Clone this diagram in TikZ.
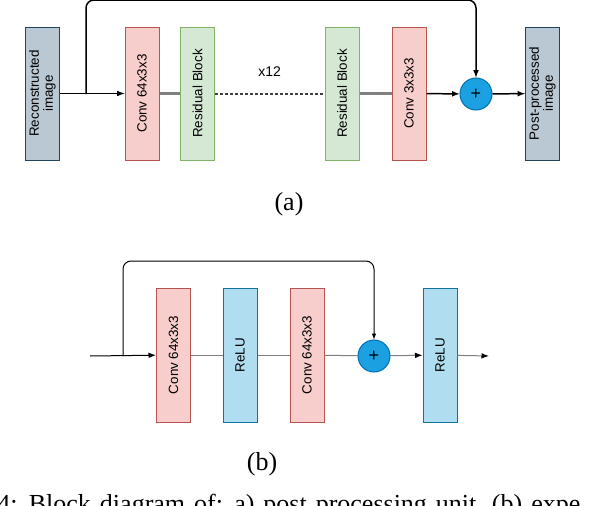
\documentclass[tikz,border=0pt]{standalone}
\usepackage{fontspec}
\setmainfont{Liberation Serif}
\setsansfont{Liberation Sans}
\usetikzlibrary{arrows.meta, positioning}

\definecolor{imgfill}{HTML}{BAC8D3}
\definecolor{imgline}{HTML}{23445D}
\definecolor{convfill}{HTML}{F8CECC}
\definecolor{convline}{HTML}{B85450}
\definecolor{resfill}{HTML}{D5E8D4}
\definecolor{resline}{HTML}{82B366}
\definecolor{relufill}{HTML}{B1DDF0}
\definecolor{reluline}{HTML}{10739E}
\definecolor{sumfill}{HTML}{1BA1E2}
\definecolor{sumline}{HTML}{006EAF}
\definecolor{linkgray}{HTML}{808080}

\begin{document}
\begin{tikzpicture}[x=1pt, y=-1pt, >=latex, line width=1pt]
	\tikzstyle{blk} = [draw, rotate=90, minimum width=133pt, minimum height=34pt, inner sep=1pt, align=center, font=\sffamily\fontsize{13.4}{14}\selectfont]
	\tikzstyle{imgbox} = [blk, fill=imgfill, draw=imgline]
	\tikzstyle{convbox} = [blk, fill=convfill, draw=convline]
	\tikzstyle{resbox} = [blk, fill=resfill, draw=resline]
	\tikzstyle{relubox} = [blk, fill=relufill, draw=reluline, minimum width=134pt]
	\tikzstyle{sumnode} = [circle, fill=sumfill, draw=sumline, minimum size=32pt, inner sep=0pt, font=\sffamily\fontsize{18}{18}\selectfont]
	\tikzstyle{graylink} = [draw=linkgray, line width=2.5pt]
	\tikzstyle{caption} = [font=\fontsize{26}{28}\selectfont]

	\useasboundingbox (0, 0) rectangle (590, 506);

	% (a) post-processing unit
	\node[imgbox] 	at (42.5, 93.5)		(rec)	{Reconstructed\\image};
	\node[convbox] 	at (142, 93.5)		(ca1)	{Conv 64x3x3};
	\node[resbox] 	at (197.5, 93.5)	(ra1)	{Residual Block};
	\node[resbox] 	at (342, 93.5)		(ra2)	{Residual Block};
	\node[convbox] 	at (409, 93.5)		(ca2)	{Conv 3x3x3};
	\node[sumnode] 	at (476, 94)		(sa)	{+};
	\node[imgbox] 	at (542.5, 93.5)	(post)	{Post-processed\\image};
	\coordinate (bra) at (86, 94);

	\path[->, line width=1.5pt]
	(rec)	edge	(ca1)
	(ca2)	edge	(sa)
	(sa)	edge	(post);

	\path[graylink]
	(ca1)	edge	(ra1)
	(ra2)	edge	(ca2);

	\path[draw=black!75, line width=2pt, dash pattern=on 2.5pt off 2.5pt]
	(ra1)	edge	node[above=13pt, text=black, font=\sffamily\fontsize{14}{14}\selectfont] {x12}	(ra2);

	\draw[->, line width=1.5pt, rounded corners=8pt] (bra) -- ++(0, -94) -| (sa);

	\node[caption] at (289, 204) (capa) {(a)};

	% (b) residual block
	\node[convbox, minimum width=134pt] 	at (173.5, 355)	(cb1)	{Conv 64x3x3};
	\node[relubox] 	at (240, 355)		(rl1)	{ReLU};
	\node[convbox, minimum width=134pt] 	at (307, 355)	(cb2)	{Conv 64x3x3};
	\node[sumnode] 	at (374, 356)		(sb)	{+};
	\node[relubox] 	at (440, 355)		(rl2)	{ReLU};
	\coordinate (inb) at (90, 356);
	\coordinate (brb) at (123, 356);
	\coordinate (outb) at (489, 356);

	\path[-{Latex[black]}]
	(inb)	edge	(cb1)
	(sb)	edge[draw=linkgray]	(rl2)
	(rl2)	edge[draw=linkgray]	(outb);

	\path[draw=linkgray]
	(cb1)	edge	(rl1)
	(rl1)	edge	(cb2)
	(cb2)	edge	(sb);

	\draw[->, rounded corners=8pt] (brb) -- ++(0, -95) -| (sb);

	\node[caption] at (262, 464) (capb) {(b)};
	\node[caption, anchor=base west, inner sep=0pt] at (-3, 512) (capfig) {\spaceskip=9pt 4: Block diagram of: a) post processing unit, (b) expe};
\end{tikzpicture}
\end{document}
